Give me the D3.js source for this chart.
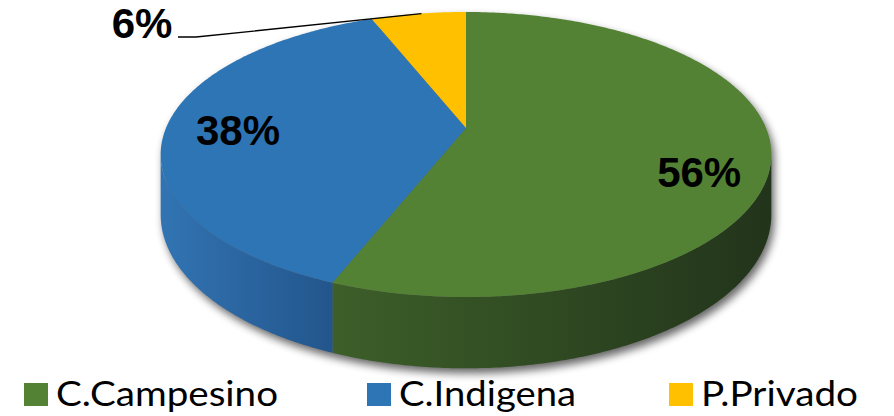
<!DOCTYPE html>
<html><head><meta charset="utf-8">
<script src="https://cdn.jsdelivr.net/npm/d3@7"></script>
<style>html,body{margin:0;padding:0;background:#fff;overflow:hidden}</style>
</head><body>
<svg id="chart" width="894" height="416"></svg>
<script>
const categories = ["C.Campesino", "C.Indigena", "P.Privado"];
const values = [56, 38, 6];
const valueLabels = ["56%", "38%", "6%"];
const colors = ["#548235", "#2E75B6", "#FFC000"];
const sideDark = ["#22341b", "#22548a", "#b08500"];
const sideLight = ["#3d5f29", "#3274b3", "#e0a800"];

(function () {
const cx = 466, cy = 128, A = 300, B = 137.6, P = 0.186, D = 58;
const svg = d3.select("#chart");
const defs = svg.append("defs");

// perspective projection of a point on the disk
function proj(theta, r, depth) {
  const X = r * Math.sin(theta), Z = -r * Math.cos(theta);
  const s = 1 / (1 - P * Z);
  return [cx + A * X * s, cy + B * Z * s + D * s * depth];
}
function rim(a, b, depth) {
  const n = Math.max(2, Math.ceil(Math.abs(b - a) / 0.01));
  return d3.range(n + 1).map(i => proj(a + (b - a) * i / n, 1, depth));
}
const line = d3.line();

const pie = d3.pie().sort(null).value(d => d)(values);

// silhouette angles
const sil1 = Math.acos(-P), sil2 = 2 * Math.PI - Math.acos(-P);

// shadow
const f = defs.append("filter").attr("id", "sh").attr("x", "-10%").attr("y", "-10%").attr("width", "120%").attr("height", "130%");
f.append("feGaussianBlur").attr("stdDeviation", 4);
const shadowPts = rim(sil1, sil2, 1).concat(rim(sil2, sil1 + 2 * Math.PI, 0));
svg.append("path").attr("d", line(shadowPts) + "Z")
  .attr("transform", "translate(3,5)")
  .attr("fill", "#000").attr("opacity", 0.6).attr("filter", "url(#sh)");

// side gradients
pie.forEach((p, i) => {
  const g = defs.append("linearGradient").attr("id", "sg" + i)
    .attr("gradientUnits", "userSpaceOnUse")
    .attr("x1", i === 1 ? 160 : 330).attr("x2", i === 1 ? 340 : 772).attr("y1", 0).attr("y2", 0);
  g.append("stop").attr("offset", 0).attr("stop-color", sideLight[i]);
  g.append("stop").attr("offset", 1).attr("stop-color", sideDark[i]);
});

// sides
const sides = svg.append("g");
pie.forEach((p, i) => {
  const a = Math.max(p.startAngle, sil1), b = Math.min(p.endAngle, sil2);
  if (b <= a) return;
  const pts = rim(a, b, 0).concat(rim(b, a, 1));
  sides.append("path").attr("d", line(pts) + "Z").attr("fill", "url(#sg" + i + ")");
});

// top faces
const faces = svg.append("g");
pie.forEach((p, i) => {
  const pts = [[cx, cy]].concat(rim(p.startAngle, p.endAngle, 0));
  faces.append("path").attr("d", line(pts) + "Z").attr("fill", colors[i]);
});

// labels
const labelR = [0.77, 0.76, 1];
const labelDy = [24, 2, 0];
const lab = svg.append("g").attr("font-family", "Liberation Sans, Arial, sans-serif")
  .attr("font-weight", "bold").attr("font-size", 42).attr("fill", "#000");
pie.forEach((p, i) => {
  const mid = (p.startAngle + p.endAngle) / 2;
  if (i === 2) {
    const e = proj(mid, 1, 0);
    svg.append("path").attr("d", line([[178, 37], [196, 37], [e[0] + 3, e[1]]]))
      .attr("fill", "none").attr("stroke", "#000").attr("stroke-width", 1.3);
    lab.append("text").attr("x", 142).attr("y", 38).attr("text-anchor", "middle").text(valueLabels[i]);
  } else {
    const c = proj(mid, labelR[i], 0);
    lab.append("text").attr("x", c[0]).attr("y", c[1] + labelDy[i] + 15)
      .attr("text-anchor", "middle").text(valueLabels[i]);
  }
});

// legend
const legX = [24, 367, 669];
const legW = [222, 177, 157];
const leg = svg.append("g");
categories.forEach((c, i) => {
  leg.append("rect").attr("x", legX[i]).attr("y", 383).attr("width", 24).attr("height", 23).attr("fill", colors[i]);
  leg.append("text").attr("x", legX[i] + 32).attr("y", 406)
    .attr("font-family", "Lato, 'Open Sans', sans-serif").attr("font-size", 34).attr("fill", "#000")
    .attr("textLength", legW[i]).attr("lengthAdjust", "spacingAndGlyphs").text(c);
});
})();
</script>
</body></html>
